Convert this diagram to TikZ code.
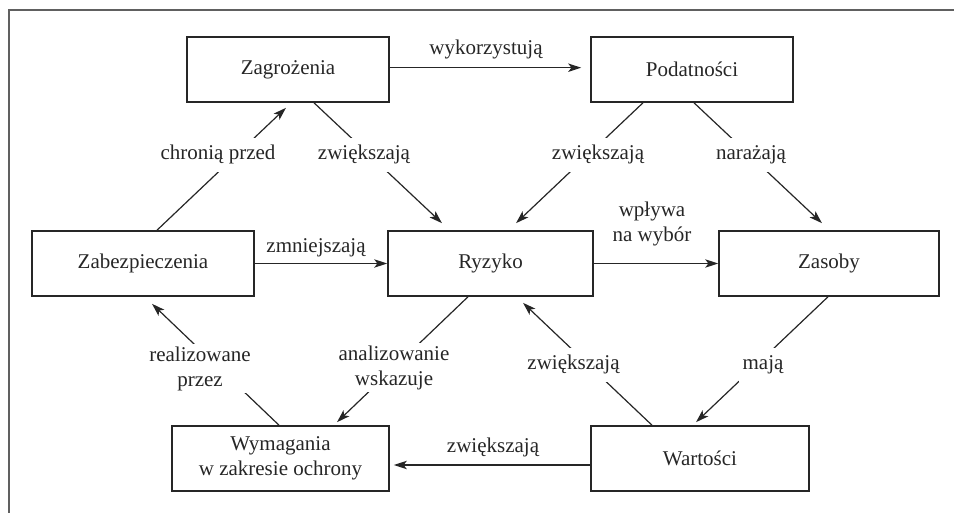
\documentclass[tikz,border=0pt]{standalone}
\usepackage{fontspec}
\setmainfont{Liberation Serif}
\usetikzlibrary{arrows.meta}
\definecolor{ink}{HTML}{262626}
\definecolor{framec}{HTML}{606060}
\newcommand\fsz{\fontsize{10.5}{12.5}\selectfont}
\begin{document}
\begin{tikzpicture}[x=0.5pt,y=-0.5pt,
  box/.style={draw=ink, line width=0.8pt, minimum height=32.5pt, inner sep=0pt, align=center, font=\fsz, text=ink},
  conn/.style={draw=ink, line width=0.6pt, -{Stealth[length=6.5pt,width=4.2pt,inset=1.6pt]}},
  lab/.style={fill=white, font=\fsz, text=ink, inner xsep=2pt, inner ysep=3.7pt, text height=0.7em, text depth=0.22em},
  labtwo/.style={fill=white, font=\fsz, text=ink, inner sep=1pt, align=center},
  hlab/.style={font=\fsz, text=ink, inner sep=0pt, text height=0.7em, text depth=0.22em, align=center}
]
\useasboundingbox (0,0) rectangle (954,513);
\draw[framec, line width=1pt] (9,513) -- (9,10) -- (954,10);

% boxes
\node[box, minimum width=101pt]   (zag) at (288,69.5)   {Zagrożenia};
\node[box, minimum width=101pt]   (pod) at (692,69.5)   {Podatności};
\node[box, minimum width=111pt]   (zab) at (143,263.5)  {Zabezpieczenia};
\node[box, minimum width=102.5pt] (ryz) at (490.5,263.5){Ryzyko};
\node[box, minimum width=110pt]   (zas) at (829,263.5)  {Zasoby};
\node[box, minimum width=108.5pt] (wym) at (280.5,458.5){Wymagania\\w zakresie ochrony};
\node[box, minimum width=109pt]   (war) at (700,458.5)  {Wartości};

% horizontal connectors
\draw[conn] ([shift={(0,-1.8)}]zag.east) -- ([shift={(-9,-1.8)}]pod.west)
  node[hlab] at (486,50) {wykorzystują};
\draw[conn] (zab.east) -- (ryz.west)
  node[hlab] at (316,248) {zmniejszają};
\draw[conn] (ryz.east) -- (zas.west)
  node[hlab] at (652,237) {wpływa\\na wybór};
\draw[conn] ([shift={(0,6.5)}]war.west) -- ([shift={(4,6.5)}]wym.east)
  node[hlab] at (493,448) {zwiększają};

% diagonal connectors
\draw[conn] ([shift={(26,0)}]zag.south) -- ([shift={(-48.5,-7)}]ryz.north)
  node[lab] at (364,155) {zwiększają};
\draw[conn] ([shift={(14,0)}]zab.north) -- ([shift={(-2,5)}]zag.south)
  node[lab] at (218,155) {chronią przed};
\draw[conn] ([shift={(-49,0)}]pod.south) -- ([shift={(25.5,-7)}]ryz.north)
  node[lab] at (598,155) {zwiększają};
\draw[conn] ([shift={(2,0)}]pod.south) -- ([shift={(-7,-7)}]zas.north)
  node[lab] at (751,155) {narażają};
\draw[conn] ([shift={(-22.5,0)}]ryz.south) -- ([shift={(56.5,-3)}]wym.north)
  node[labtwo] at (394,367.5) {analizowanie\\wskazuje};
\draw[conn] ([shift={(-1.5,0)}]wym.north) -- ([shift={(9,7)}]zab.south)
  node[labtwo] at (200,368.5) {realizowane\\przez};
\draw[conn] ([shift={(-48,0)}]war.north) -- ([shift={(32.5,6)}]ryz.south)
  node[lab] at (573.5,365) {zwiększają};
\draw[conn] ([shift={(-1,0)}]zas.south) -- ([shift={(-4,-3)}]war.north)
  node[lab] at (763,365) {mają};
\end{tikzpicture}
\end{document}
